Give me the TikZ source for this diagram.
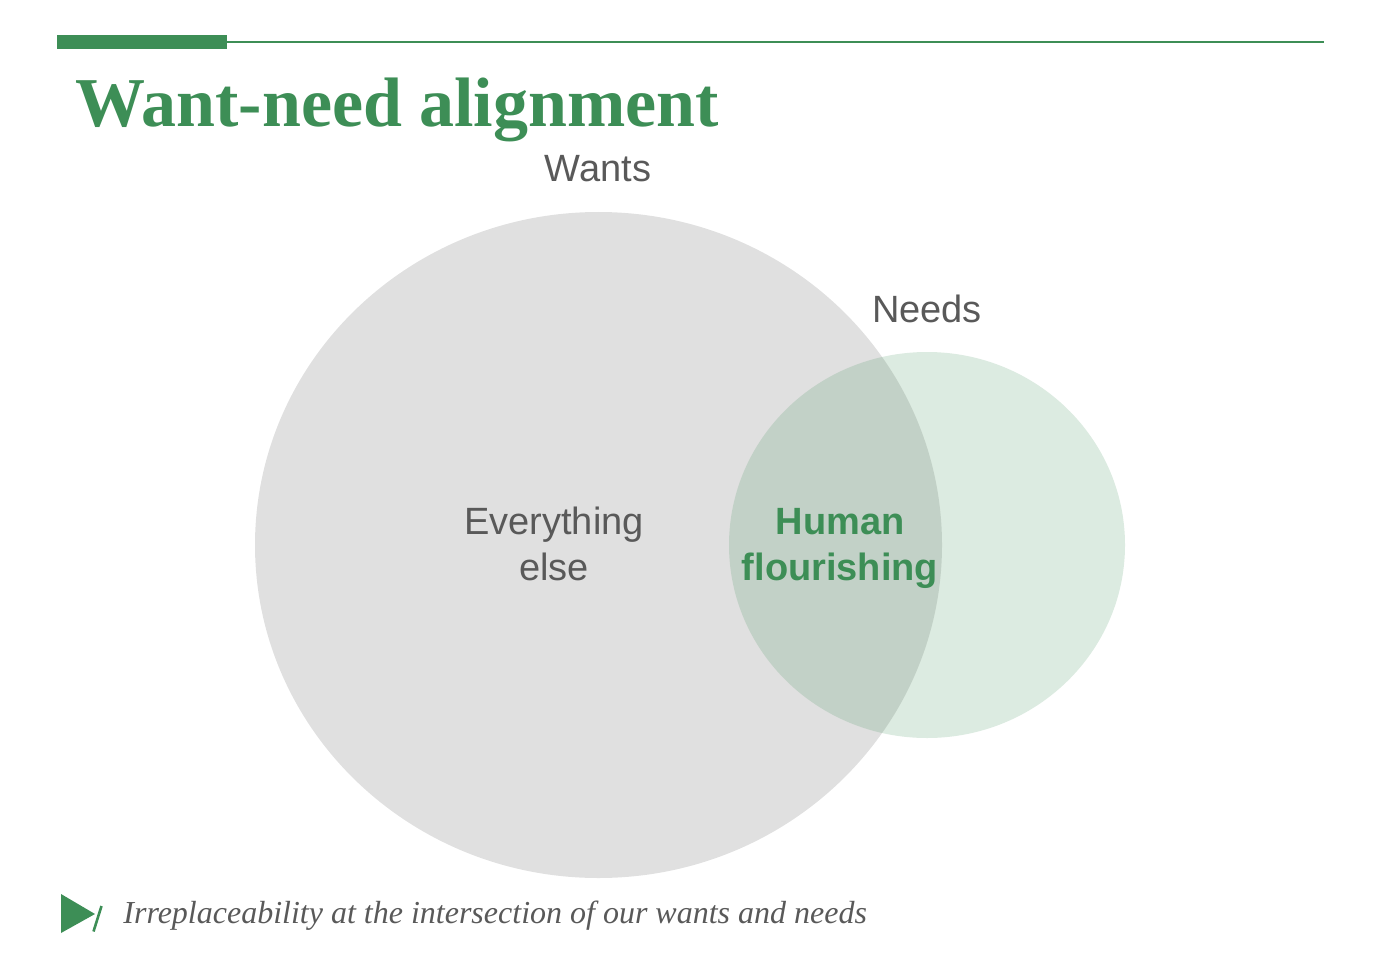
\documentclass[tikz,border=0pt]{standalone}
\usepackage{fontspec}
\setmainfont{Liberation Serif}
\setsansfont{Liberation Sans}
\usetikzlibrary{positioning}
\definecolor{leaf}{RGB}{61,142,86}
\definecolor{ink}{RGB}{89,89,89}
\definecolor{fog}{RGB}{224,224,224}
\tikzset{
  lbl/.style={font=\sffamily\fontsize{19}{23}\selectfont,text=ink,inner sep=0pt,align=center},
  hot/.style={lbl,font=\sffamily\bfseries\fontsize{19}{23}\selectfont,text=leaf}
}

\begin{document}
\begin{tikzpicture}[x=0.5pt,y=-0.5pt]
\useasboundingbox (0,0) rectangle (1374,968);
\fill[leaf] (57,35) rectangle (227,49);
\draw[leaf,line width=1pt] (227,42)--(1324,42);
\node[anchor=base west,inner sep=0pt,text=leaf,font=\bfseries\fontsize{35}{40}\selectfont] (title) at (75,127) {Want-need alignment};
\fill[fog] (598.5,545) ellipse [x radius=343.5,y radius=333];
\fill[leaf,fill opacity=0.18] (927,545) ellipse [x radius=198,y radius=193];
\node[lbl,anchor=base] (wants) at (598,182) {Wants};
\node[lbl,anchor=base] (needs) at (927,322) {Needs};
\node[lbl] (else) at (554,544) {Everything\\else};
\node[hot] (flourish) at (840,548) {Human\\flourishing};
\fill[leaf] (61,894)--(95,914)--(61,933)--cycle;
\draw[leaf,line width=1.3pt] (93.5,931.5)--(101.5,906);
\node[anchor=base west,inner sep=0pt,text=ink,font=\itshape\fontsize{16}{18}\selectfont] (note) at (123,923) {Irreplaceability at the intersection of our wants and needs};
\end{tikzpicture}
\end{document}
